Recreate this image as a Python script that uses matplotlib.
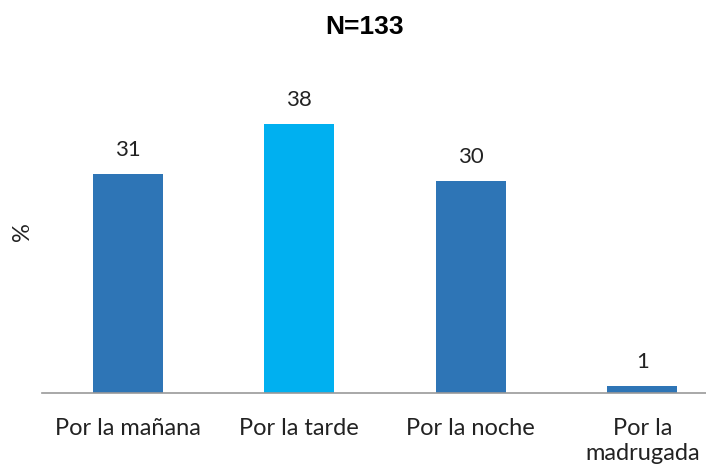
import numpy as np
import matplotlib.pyplot as plt

# ---------------------------------------------------------------
# Data
# ---------------------------------------------------------------
categories = ["Por la mañana", "Por la tarde", "Por la noche", "Por la\nmadrugada"]
values = [31, 38, 30, 1]
colors = ["#2E75B6", "#00B0F0", "#2E75B6", "#2E75B6"]

# ---------------------------------------------------------------
# Plot
# ---------------------------------------------------------------
fig = plt.figure(figsize=(7.06, 4.68), dpi=100)
ax = fig.add_axes([42 / 706, 75 / 468, 686 / 706, 318 / 468])

x = np.arange(len(categories))
bars = ax.bar(x, values, width=0.41, color=colors)

for xi, v in zip(x, values):
    ax.text(xi, v + 2.0, str(v), ha="center", va="bottom",
            fontsize=16, family="Lato", color="#222222")

ax.set_xlim(-0.5, 3.5)
ax.set_ylim(0, 45)
ax.set_xticks(x)
ax.set_xticklabels(categories, fontsize=17, family="Lato", color="#222222",
                   linespacing=1.25)
ax.tick_params(axis="x", length=0, pad=18)
ax.set_yticks([])

for s in ["top", "right", "left"]:
    ax.spines[s].set_visible(False)
ax.spines["bottom"].set_color("#999999")
ax.spines["bottom"].set_linewidth(1.2)

fig.text(22 / 706, 1 - 232 / 468, "%", rotation=90, ha="center", va="center",
         fontsize=17, family="Lato", color="#222222")
fig.text(365 / 706, 1 - 27 / 468, "N=133", ha="center", va="center",
         fontsize=19, fontweight="bold", family="Liberation Sans")

fig.savefig("out.png", dpi=100)
